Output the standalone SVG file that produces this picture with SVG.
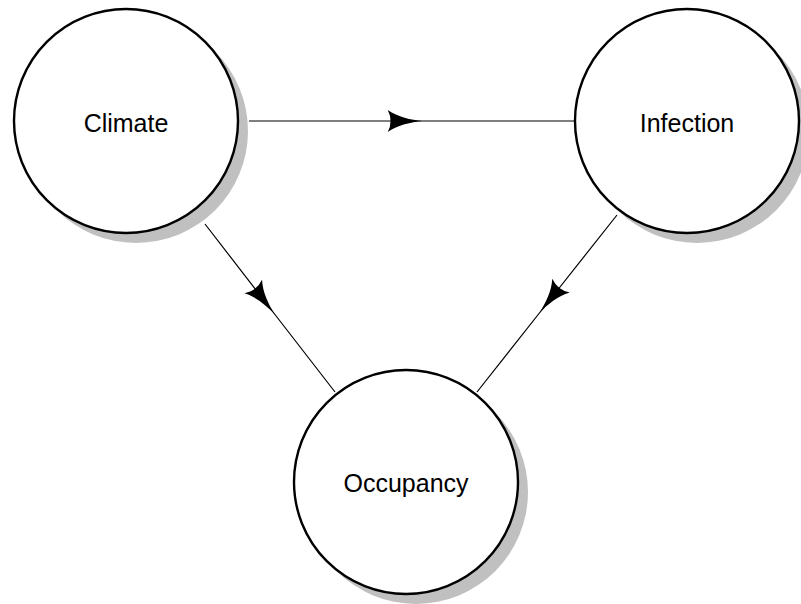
<svg xmlns="http://www.w3.org/2000/svg" width="801" height="604" viewBox="0 0 801 604">
<style>
.shadow{fill:#c0c0c0;stroke:none}
.node{fill:#fff;stroke:#000;stroke-width:2.4}
.label{font-family:"Liberation Sans",Arial,sans-serif;font-size:25px;fill:#000;text-anchor:middle}
.edge{fill:none;stroke:#000;stroke-width:1.2;marker-mid:url(#ah)}
</style>
<defs>
<marker id="ah" markerUnits="userSpaceOnUse" markerWidth="40" markerHeight="30" viewBox="-32 -12 36 24" refX="0" refY="0" orient="auto">
<path d="M2,0 C-8,-1.2 -20,-3.5 -29,-10 Q-24,0 -29,10 C-20,3.5 -8,1.2 2,0 Z" fill="#000"/>
</marker>
</defs>
<rect width="801" height="604" fill="#fff"/>
<g id="connectors">
<path class="edge" d="M249,121 L420,121 L575,121"/>
<path class="edge" d="M205,224 L273,312 L335,392"/>
<path class="edge" d="M617,215 L541,311 L477,392"/>
</g>
<g id="climate">
<circle class="shadow" cx="136" cy="131" r="112"/>
<circle class="node" cx="126" cy="121" r="112"/>
<text class="label" x="126" y="132">Climate</text>
</g>
<g id="infection">
<circle class="shadow" cx="697" cy="131" r="112"/>
<circle class="node" cx="687" cy="121" r="112"/>
<text class="label" x="687" y="132">Infection</text>
</g>
<g id="occupancy">
<circle class="shadow" cx="416" cy="492" r="112"/>
<circle class="node" cx="406" cy="482" r="112"/>
<text class="label" x="406" y="492">Occupancy</text>
</g>
</svg>
